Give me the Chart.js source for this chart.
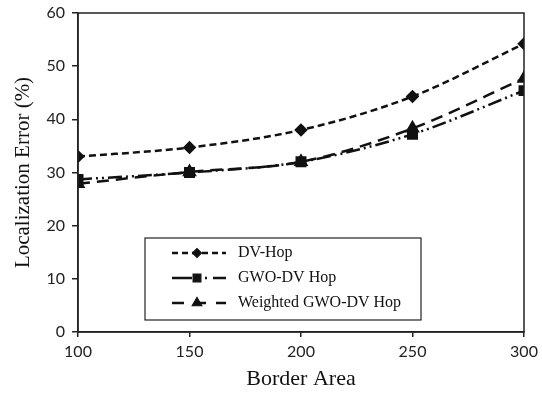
<!DOCTYPE html>
<html><head><meta charset="utf-8">
<script src="https://cdn.jsdelivr.net/npm/chart.js@4/dist/chart.umd.min.js"></script>
<style>html,body{margin:0;padding:0;background:#fff}#wrap{width:542px;height:396px}</style>
</head><body><div id="wrap"><canvas id="c" width="542" height="396"></canvas></div>
<script>
const borderArea = [100, 150, 200, 250, 300];
const dvHop = [33.0, 34.7, 38.0, 44.3, 54.2];
const gwoDvHop = [28.7, 30.0, 32.0, 37.2, 45.4];
const weightedGwoDvHop = [27.9, 30.1, 32.0, 38.3, 47.7];
const yTicks = [0, 10, 20, 30, 40, 50, 60];

const toPts = arr => borderArea.map((x, i) => ({x, y: arr[i]}));

const frame = {
  id: 'frame',
  afterDraw(chart) {
    const {ctx, chartArea: a} = chart;
    ctx.save();
    ctx.strokeStyle = '#222'; ctx.lineWidth = 1.5;
    ctx.strokeRect(a.left, a.top, a.right - a.left, a.bottom - a.top);
    // legend box
    const bx = 145, by = 238, bw = 276, bh = 82;
    ctx.fillStyle = '#fff';
    ctx.fillRect(bx, by, bw, bh);
    ctx.lineWidth = 1.2; ctx.strokeStyle = '#222';
    ctx.strokeRect(bx, by, bw, bh);
    const rows = [253, 278, 303];
    chart.data.datasets.forEach((ds, i) => {
      const y = rows[i];
      ctx.save();
      ctx.strokeStyle = '#111'; ctx.lineWidth = 2.5;
      ctx.setLineDash(ds.legendDash);
      ctx.beginPath(); ctx.moveTo(172, y); ctx.lineTo(226, y); ctx.stroke();
      ctx.restore();
      ctx.save();
      ctx.fillStyle = '#111'; ctx.strokeStyle = '#111'; ctx.setLineDash([]);
      Chart.helpers.drawPoint(ctx, {pointStyle: ds.pointStyle, radius: ds.pointRadius - 0.5, borderWidth: 1}, 197, y);
      ctx.restore();
      ctx.fillStyle = '#111';
      ctx.font = '16px "Liberation Serif", "Times New Roman", serif';
      ctx.textBaseline = 'middle'; ctx.textAlign = 'left';
      ctx.fillText(ds.label, 238, y);
    });
    ctx.restore();
  }
};

new Chart(document.getElementById('c'), {
  type: 'line',
  data: {
    datasets: [
      {label: 'DV-Hop', data: toPts(dvHop), borderColor: '#111', backgroundColor: '#111', borderWidth: 2.5,
       borderDash: [7, 4], legendDash: [6, 4], pointStyle: 'rectRot', pointRadius: 5, tension: 0.4, cubicInterpolationMode: 'monotone'},
      {label: 'GWO-DV Hop', data: toPts(gwoDvHop), borderColor: '#111', backgroundColor: '#111', borderWidth: 2.5,
       borderDash: [14, 4, 2, 4, 2, 4], legendDash: [20, 5, 2, 6, 2, 6], pointStyle: 'rect', pointRadius: 6, tension: 0.4, cubicInterpolationMode: 'monotone'},
      {label: 'Weighted GWO-DV Hop', data: toPts(weightedGwoDvHop), borderColor: '#111', backgroundColor: '#111', borderWidth: 2.5,
       borderDash: [12, 7], legendDash: [12, 10], pointStyle: 'triangle', pointRadius: 6, tension: 0.4, cubicInterpolationMode: 'monotone'}
    ]
  },
  options: {
    responsive: false, animation: false,
    layout: {padding: {top: 13, right: 18, bottom: 0, left: 0}},
    plugins: {legend: {display: false}, tooltip: {enabled: false}},
    scales: {
      x: {
        type: 'linear', min: 100, max: 300,
        ticks: {stepSize: 50, color: '#222', font: {family: 'Lato, "Open Sans", sans-serif', size: 16}, padding: 5},
        grid: {drawOnChartArea: false, tickLength: 5, color: '#222', lineWidth: 1.5},
        border: {color: '#222', width: 1.5},
        title: {display: true, text: 'Border Area', color: '#111', font: {family: '"Liberation Serif", "Times New Roman", serif', size: 22}, padding: {top: 6}},
        afterFit(s) { s.height = 64; s.paddingLeft = 0; s.paddingRight = 0; }
      },
      y: {
        min: 0, max: 60,
        afterBuildTicks(s) { s.ticks = yTicks.map(v => ({value: v})); },
        ticks: {color: '#222', font: {family: 'Lato, "Open Sans", sans-serif', size: 16}, padding: 7},
        grid: {drawOnChartArea: false, tickLength: 6, color: '#222', lineWidth: 1.5},
        border: {color: '#222', width: 1.5},
        title: {display: true, text: 'Localization Error (%)', color: '#111', font: {family: '"Liberation Serif", "Times New Roman", serif', size: 21}, padding: {top: 11, bottom: 0}},
        afterFit(s) { s.width = 78; s.paddingTop = 0; s.paddingBottom = 0; }
      }
    }
  },
  plugins: [frame]
});
</script></body></html>
